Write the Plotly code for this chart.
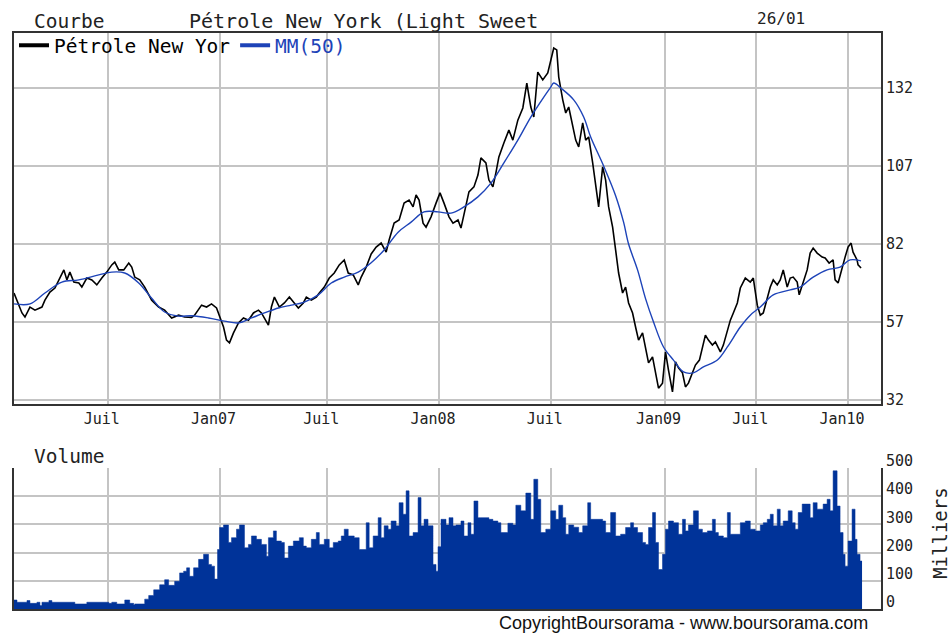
import plotly.graph_objects as go

# ---- data (x = session index along the time axis) ----
price_session = [0,3,8,11,16,21,28,31,36,41,46,50,53,56,60,65,68,73,78,83,88,93,98,101,105,110,115,118,121,126,131,138,145,151,158,165,171,178,181,188,193,198,203,206,210,213,216,220,225,230,235,240,245,248,251,255,258,261,266,271,276,280,285,290,293,298,303,306,311,316,321,326,331,335,340,345,348,353,358,363,368,373,376,381,386,391,396,400,403,406,410,413,418,423,427,431,436,440,445,448,451,456,461,465,468,473,476,480,483,486,491,496,500,505,510,514,518,521,525,530,535,538,541,544,546,550,553,556,560,563,566,570,573,576,580,583,586,590,593,596,600,603,606,610,613,616,620,623,626,630,633,636,640,643,646,650,653,656,660,663,666,670,673,676,680,683,687,693,696,700,703,708,711,715,718,721,725,728,733,738,741,745,748,751,755,758,761,765,768,771,775,778,781,785,787,791,795,798,801,805,810,813,817,821,823,826,830,833,836,839,841,845,846,849]
price_value = [66.3,64.0,59.9,58.6,61.8,60.8,61.8,64.0,66.6,67.9,71.1,73.7,70.5,73.0,69.8,69.5,68.2,71.1,70.5,68.9,71.1,73.0,75.3,76.2,73.7,73.7,75.9,74.6,71.4,70.5,68.2,64.0,61.8,60.8,58.3,59.2,58.6,58.5,59.2,62.4,61.8,62.8,61.5,58.6,55.4,51.2,50.3,53.5,56.7,58.3,57.6,59.9,60.8,59.9,58.3,56.0,61.8,65.0,61.8,63.1,65.0,63.4,61.5,63.1,65.0,64.0,65.0,66.3,68.2,71.1,72.7,75.3,76.9,72.7,72.1,68.9,71.4,74.6,78.8,81.0,82.3,79.4,83.3,88.7,89.7,95.1,96.1,93.9,97.7,96.1,88.7,87.4,90.7,95.1,98.4,95.1,90.7,88.7,89.7,87.1,91.9,98.7,100.3,104.1,109.6,108.0,102.5,100.3,104.8,109.9,114.4,118.5,115.3,121.7,125.6,133.6,125.9,122.7,137.1,134.6,136.8,141.0,144.8,144.2,135.5,128.2,124.0,125.9,119.5,115.3,113.1,120.8,115.3,116.3,108.0,101.5,93.9,106.7,102.5,93.9,87.4,80.1,72.7,66.3,68.2,63.1,59.9,55.4,51.2,53.5,49.0,43.9,45.8,40.7,35.8,37.4,47.4,41.6,34.6,44.2,42.3,40.7,36.2,37.4,40.7,43.2,44.8,52.8,51.2,49.6,50.6,47.4,49.6,54.4,57.6,59.9,63.1,67.9,71.1,69.8,71.1,62.4,59.2,59.9,65.0,68.2,70.5,68.9,70.5,73.7,68.2,71.1,71.4,69.8,65.7,69.5,73.7,79.1,80.7,79.1,77.8,77.5,75.9,76.9,70.5,69.5,74.6,77.8,81.0,82.3,79.4,76.9,75.3,74.3]

ma_session = [0,16,31,48,65,85,98,111,125,138,151,165,178,195,211,225,238,251,265,278,291,305,318,331,345,358,371,385,398,411,425,438,451,465,478,491,505,518,531,538,541,548,561,571,578,591,603,611,616,625,633,641,651,661,671,681,691,705,715,728,738,748,761,778,788,801,815,828,838,849]
ma_value = [62.8,62.8,66.3,69.8,70.5,72.1,73.0,72.7,69.5,64.6,60.2,58.9,59.0,58.3,57.3,56.7,58.3,59.9,61.5,62.4,63.4,65.7,69.5,71.4,73.0,76.0,80.1,85.8,89.0,92.3,92.3,91.9,93.9,97.1,101.5,108.0,115.3,122.7,129.1,132.3,133.6,132.0,128.2,122.7,116.3,107.0,97.5,89.0,82.0,73.7,64.5,57.0,49.0,44.8,41.0,40.7,42.6,44.8,49.0,55.4,59.2,61.8,65.7,67.3,68.2,71.4,73.7,74.6,76.9,76.6]

vol_session = [0,3,13,16,23,26,28,35,38,61,73,95,98,103,111,116,120,121,131,135,140,146,151,155,161,166,170,173,176,180,185,190,195,198,201,204,206,210,215,218,223,226,231,235,238,243,248,253,255,260,263,268,271,275,280,286,290,293,298,303,306,311,316,320,325,328,331,335,341,346,353,356,360,365,368,371,375,378,383,386,390,393,396,400,405,408,411,415,420,423,425,428,433,436,440,443,448,451,455,458,461,465,468,476,480,485,488,495,500,503,508,513,518,521,525,528,533,538,543,546,550,553,556,561,566,570,575,578,590,593,598,603,608,613,618,621,625,630,633,636,640,643,646,650,653,656,661,666,670,673,676,681,686,690,695,700,703,706,711,715,718,728,733,738,743,748,751,755,758,761,765,768,771,776,780,783,786,790,798,801,805,811,815,818,821,825,828,831,833,836,840,843,845,848,850]
vol_value = [32,24,30,20,24,12,24,30,24,18,24,20,24,18,32,20,14,18,35,48,68,86,104,84,98,128,134,146,116,146,176,194,158,152,106,211,289,298,236,253,283,298,217,229,259,247,229,187,253,277,241,236,181,223,241,253,223,217,247,271,229,247,217,236,241,259,283,259,253,211,306,217,259,324,253,295,283,312,295,377,336,419,259,271,395,295,318,295,158,134,221,318,298,324,295,298,312,259,306,265,383,324,324,318,312,306,271,304,298,368,348,411,318,460,389,271,283,348,318,368,324,265,298,290,271,295,377,318,312,271,342,259,265,289,306,289,271,236,229,289,342,236,140,194,283,312,306,265,318,277,298,348,283,271,277,318,271,259,253,342,265,306,312,283,277,298,306,318,336,295,354,295,312,348,306,283,342,372,324,377,354,372,389,348,490,365,271,194,152,241,354,247,194,170,170]

tick_sessions = [94, 206, 314, 426, 538, 652, 744, 836]
tick_labels = ["Juil", "Jan07", "Juil", "Jan08", "Juil", "Jan09", "Juil", "Jan10"]
price_ticks = [32, 57, 82, 107, 132]
vol_ticks = [0, 100, 200, 300, 400, 500]

MONO = "DejaVu Sans Mono"
BLACK = "#000000"
BLUE = "#1d43b8"
VOLBLUE = "#003399"
GRID = "#c4c4c4"
FRAME = "#333333"
TXT = "#222222"

fig = go.Figure()
fig.add_trace(go.Scatter(x=price_session, y=price_value, mode="lines",
                         line=dict(color=BLACK, width=1.6), showlegend=False,
                         xaxis="x", yaxis="y"))
fig.add_trace(go.Scatter(x=ma_session, y=ma_value, mode="lines",
                         line=dict(color=BLUE, width=1.4, shape="spline"), showlegend=False,
                         xaxis="x", yaxis="y"))
# legend samples
fig.add_trace(go.Scatter(x=[None], y=[None], mode="lines", name="Pétrole New Yor",
                         line=dict(color=BLACK, width=4), xaxis="x", yaxis="y"))
fig.add_trace(go.Scatter(x=[None], y=[None], mode="lines",
                         name="<span style='color:%s'>MM(50)</span>" % BLUE,
                         line=dict(color=BLUE, width=4), xaxis="x", yaxis="y"))
fig.add_trace(go.Scatter(x=vol_session, y=vol_value, mode="lines",
                         line=dict(color=VOLBLUE, width=0.5, shape="hv"),
                         fill="tozeroy", fillcolor=VOLBLUE, showlegend=False,
                         xaxis="x2", yaxis="y2"))

xr = [0, 869]
axis_common = dict(showgrid=True, gridcolor=GRID, gridwidth=2, zeroline=False,
                   layer="below traces")
fig.update_layout(
    width=951, height=634,
    margin=dict(l=12, r=70, t=33, b=25),
    paper_bgcolor="white", plot_bgcolor="white",
    font=dict(family=MONO, color=TXT),
    xaxis=dict(domain=[0, 1], range=xr, tickvals=tick_sessions, ticktext=tick_labels,
               showline=True, linecolor=FRAME, linewidth=2, mirror=True, ticks="",
               tickfont=dict(family=MONO, size=15, color=TXT), ticklabelshift=-6,
               anchor="y", **axis_common),
    yaxis=dict(domain=[0.3559, 1], range=[30.72, 149.63], tickvals=price_ticks,
               side="right", showline=True, linecolor=FRAME, linewidth=2, mirror=True,
               ticks="", tickfont=dict(family=MONO, size=15, color=TXT),
               anchor="x", **axis_common),
    xaxis2=dict(domain=[0, 1], range=xr, tickvals=tick_sessions, showticklabels=False,
                showline=True, linecolor=FRAME, linewidth=2, mirror=False, ticks="",
                anchor="y2", **axis_common),
    yaxis2=dict(domain=[0, 0.2448], range=[0, 500], tickvals=vol_ticks, side="right",
                showline=True, linecolor=FRAME, linewidth=2, mirror=True, ticks="",
                tickfont=dict(family=MONO, size=15, color=TXT), ticklabelshift=-7,
                anchor="x2", **axis_common),
    legend=dict(orientation="h", x=0.0, y=1.012, xanchor="left", yanchor="top",
                bgcolor="rgba(0,0,0,0)", font=dict(family=MONO, size=19.5, color=BLACK),
                itemwidth=30, traceorder="normal"),
    showlegend=True,
)

def px2paper(px, py):
    return (px - 12) / 869.0, (609 - py) / 576.0

annots = [
    ("Courbe", 30, 21, MONO, 19.5, TXT, "left"),
    ("Pétrole New York (Light Sweet", 185, 21, MONO, 20, TXT, "left"),
    ("26/01", 755, 19, MONO, 16, TXT, "left"),
    ("Volume", 30, 456, MONO, 19.5, TXT, "left"),
    ("CopyrightBoursorama - www.boursorama.com", 870, 623, "Liberation Sans", 18, "#111111", "right"),
]
for txt, px, py, fam, sz, col, anc in annots:
    ax_, ay_ = px2paper(px, py)
    fig.add_annotation(text=txt, x=ax_, y=ay_, xref="paper", yref="paper",
                       xanchor=anc, yanchor="middle", showarrow=False,
                       font=dict(family=fam, size=sz, color=col))
mx, my = px2paper(940, 533)
fig.add_annotation(text="Milliers", x=mx, y=my, xref="paper", yref="paper",
                   xanchor="center", yanchor="middle", showarrow=False, textangle=-90,
                   font=dict(family=MONO, size=19, color=TXT))

fig.write_html("out.html", config={"displayModeBar": False},
               post_script="document.body.style.margin='0';")
